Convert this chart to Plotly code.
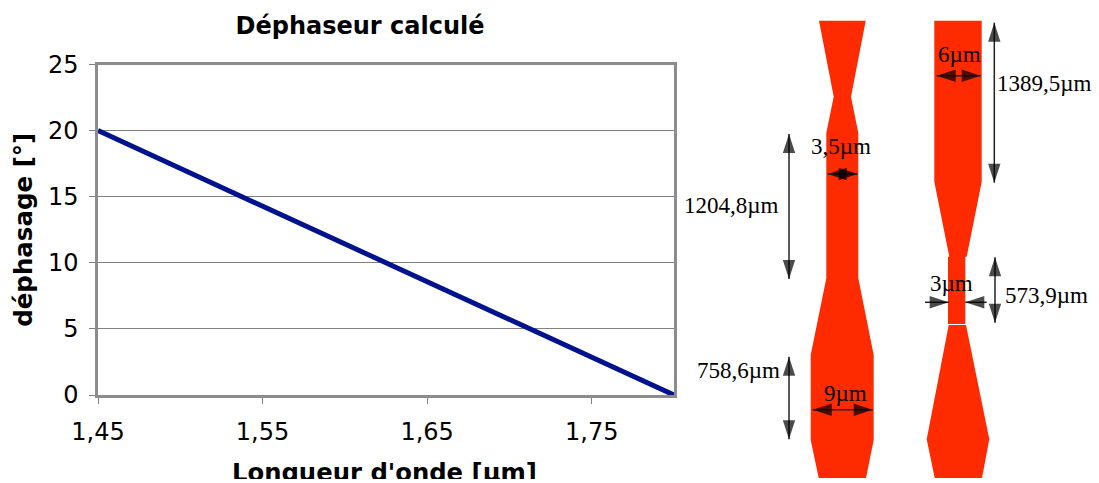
import plotly.graph_objects as go

# chart data
wavelength_um = [1.45, 1.55, 1.65, 1.75, 1.80]
phase_deg = [20, 14.3, 8.6, 2.9, 0]
x_tickvals = [1.45, 1.55, 1.65, 1.75]
x_ticktext = ["1,45", "1,55", "1,65", "1,75"]
y_tickvals = [0, 5, 10, 15, 20, 25]

# device outlines, in page-sized diagram units
left_device_x = [819, 865.7, 851, 858.3, 858.3, 873.7, 873.7, 866, 818.7, 810.7, 810.7, 826.3, 826.3, 833.7]
left_device_y = [20.7, 20.7, 96.7, 133, 278.3, 355, 440, 478, 478, 440, 355, 278.3, 133, 96.7]
right_top_x = [934.3, 981.7, 981.7, 966.7, 965.3, 965.3, 948, 948, 949.3, 934.3]
right_top_y = [20.7, 20.7, 181.7, 256.7, 256.7, 324, 324, 256.7, 256.7, 181.7]
right_low_x = [948.7, 966, 989.3, 982, 934.7, 926.7]
right_low_y = [325, 325, 439.3, 478, 478, 439.3]

# dimension arrows: (x0, y0, x1, y1, both_heads)
arrow_1389 = (994.3, 22.7, 994.3, 182.7, True)
arrow_6 = (936.7, 75.7, 980.7, 75.7, True)
arrow_35 = (827.7, 174, 857.7, 174, True)
arrow_1204 = (789, 134, 789, 279, True)
arrow_758 = (789, 356.7, 789, 439.3, True)
arrow_9 = (812.7, 409.7, 872.7, 409.7, True)
arrow_573 = (995, 257.3, 995, 322.7, True)
arrow_3a = (925, 302.3, 948.7, 302.3, False)
arrow_3b = (986.7, 302.3, 965.3, 302.3, False)
arrows = [arrow_1389, arrow_6, arrow_35, arrow_1204, arrow_758, arrow_9, arrow_573, arrow_3a, arrow_3b]

# dimension labels: (text, x, y, anchor)
dim_labels = [
    ("6µm", 959.3, 54, "center"),
    ("1389,5µm", 995, 83, "left"),
    ("3,5µm", 841, 146, "center"),
    ("1204,8µm", 731, 205, "center"),
    ("758,6µm", 738, 370, "center"),
    ("9µm", 845.7, 393, "center"),
    ("3µm", 951.7, 283, "center"),
    ("573,9µm", 1046.7, 295, "center"),
]

W, H = 1099, 479
RED = "#ff2b00"
fig = go.Figure()

fig.add_trace(go.Scatter(x=wavelength_um, y=phase_deg, mode="lines",
                         line=dict(color="#00128c", width=5), showlegend=False,
                         cliponaxis=False))

for xs, ys in [(left_device_x, left_device_y), (right_top_x, right_top_y), (right_low_x, right_low_y)]:
    fig.add_trace(go.Scatter(x=xs, y=ys, xaxis="x2", yaxis="y2", mode="lines", fill="toself",
                             fillcolor=RED, line=dict(width=0), showlegend=False, hoverinfo="skip"))

for x0, y0, x1, y1, both in arrows:
    if x0 == x1:
        angles = [0, 180]
    elif x1 > x0:
        angles = [270, 90]
    else:
        angles = [90, 270]
    fig.add_trace(go.Scatter(x=[x0, x1], y=[y0, y1], xaxis="x2", yaxis="y2", mode="lines+markers",
                             line=dict(color="#222222", width=1.5),
                             marker=dict(symbol="arrow", angle=angles, color="black",
                                         size=[20 if both else 0, 20], line=dict(width=0)),
                             showlegend=False, hoverinfo="skip"))

annotations = [dict(text=t, x=x, y=y, xref="x2", yref="y2", xanchor=a, yanchor="middle", showarrow=False,
                    font=dict(family="Liberation Serif", size=23, color="black")) for t, x, y, a in dim_labels]
annotations.append(dict(text="<b>Longueur d'onde [µm]</b>", x=384.5, y=472, xref="x2", yref="y2",
                        xanchor="center", yanchor="middle", showarrow=False,
                        font=dict(family="DejaVu Sans", size=24.3, color="black")))

fig.update_layout(
    template="none",
    width=W, height=H, margin=dict(l=0, r=0, t=0, b=0, pad=0), autosize=False,
    paper_bgcolor="white", plot_bgcolor="rgba(0,0,0,0)", showlegend=False,
    font=dict(family="DejaVu Sans", color="black"),
    title=dict(text="<b>Déphaseur calculé</b>", x=360 / W, y=1 - 26 / H, xanchor="center", yanchor="middle",
               xref="paper", yref="paper", font=dict(family="DejaVu Sans", size=24, color="black")),
    xaxis=dict(automargin=False, domain=[98 / W, 674 / W], range=[1.45, 1.80], tickvals=x_tickvals, ticktext=x_ticktext,
               showgrid=False, zeroline=False, showline=True, linecolor="#8c8c8c", linewidth=2.5, mirror=True,
               ticks="outside", ticklen=6, tickcolor="#808080", tickfont=dict(size=24), ticklabelstandoff=7),
    yaxis=dict(automargin=False, domain=[1 - 395 / H, 1 - 64.5 / H], range=[0, 25], tickvals=y_tickvals,
               showgrid=True, gridcolor="#808080", gridwidth=1, zeroline=False, showline=True,
               linecolor="#8c8c8c", linewidth=2.5, mirror=True,
               ticks="outside", ticklen=6, tickcolor="#808080", tickfont=dict(size=24), ticklabelstandoff=6,
               title=dict(text="<b>déphasage [°]</b>", font=dict(size=24.5), standoff=9)),
    xaxis2=dict(automargin=False, domain=[0, 1], range=[0, W], visible=False, anchor="y2"),
    yaxis2=dict(automargin=False, domain=[0, 1], range=[H, 0], visible=False, anchor="x2"),
    annotations=annotations,
)

fig.write_html("out.html", config=dict(displayModeBar=False),
               post_script="document.body.style.margin='0';document.body.style.background='white';")
